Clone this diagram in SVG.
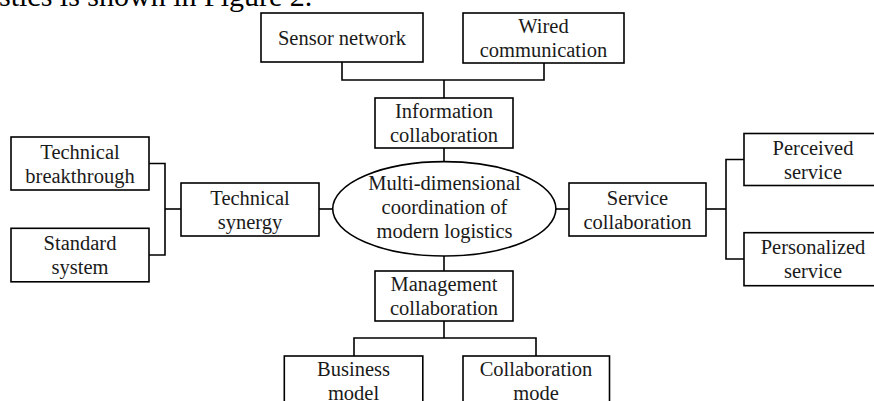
<svg xmlns="http://www.w3.org/2000/svg" width="874" height="401" viewBox="0 0 874 401">
<style>
.box{fill:#fff;stroke:#000;stroke-width:1.6}
.t{font-family:"Liberation Serif","Times New Roman",serif;font-size:20.5px;fill:#1a1a1a;text-anchor:middle}
.c{fill:none;stroke:#000;stroke-width:1.6}
</style>
<rect width="874" height="401" fill="#fff"/>
<text x="-1" y="5.5" style="font-family:'Liberation Serif','Times New Roman',serif;font-size:30px;fill:#000">stics is shown in Figure 2.</text>
<g id="connectors">
<path class="c" d="M342,62 V80 H544 V63"/>
<path class="c" d="M444,80 V98"/>
<path class="c" d="M444,148 V162"/>
<path class="c" d="M444,256 V271"/>
<path class="c" d="M444,321 V338"/>
<path class="c" d="M354,356 V338 H536 V356"/>
<path class="c" d="M149,163.5 H165 V255 H149"/>
<path class="c" d="M165,209 H181"/>
<path class="c" d="M319,209 H333"/>
<path class="c" d="M556,209 H569"/>
<path class="c" d="M706,209 H726"/>
<path class="c" d="M744,159.5 H726 V259 H744"/>
</g>
<g id="sensor-network">
<rect class="box" x="261" y="13" width="162" height="49"/>
<text class="t" x="342" y="45">Sensor network</text>
</g>
<g id="wired-communication">
<rect class="box" x="463" y="13" width="161" height="50"/>
<text class="t" x="543.5" y="33">Wired</text>
<text class="t" x="543.5" y="57">communication</text>
</g>
<g id="information-collaboration">
<rect class="box" x="375" y="98" width="138" height="50"/>
<text class="t" x="444" y="118">Information</text>
<text class="t" x="444" y="142">collaboration</text>
</g>
<g id="center">
<ellipse class="box" cx="444.3" cy="208.8" rx="111.6" ry="47.2"/>
<text class="t" x="444.5" y="190">Multi-dimensional</text>
<text class="t" x="444.5" y="214">coordination of</text>
<text class="t" x="444.5" y="238">modern logistics</text>
</g>
<g id="technical-breakthrough">
<rect class="box" x="11" y="137" width="138" height="53"/>
<text class="t" x="80" y="158.5">Technical</text>
<text class="t" x="80" y="182.5">breakthrough</text>
</g>
<g id="standard-system">
<rect class="box" x="11" y="228.3" width="138" height="53.5"/>
<text class="t" x="80" y="250">Standard</text>
<text class="t" x="80" y="274">system</text>
</g>
<g id="technical-synergy">
<rect class="box" x="181" y="183" width="138" height="53"/>
<text class="t" x="250" y="204.5">Technical</text>
<text class="t" x="250" y="228.5">synergy</text>
</g>
<g id="service-collaboration">
<rect class="box" x="569" y="183" width="137" height="53"/>
<text class="t" x="637.5" y="204.5">Service</text>
<text class="t" x="637.5" y="228.5">collaboration</text>
</g>
<g id="perceived-service">
<rect class="box" x="744" y="133.5" width="138" height="52"/>
<text class="t" x="813" y="154.5">Perceived</text>
<text class="t" x="813" y="178.5">service</text>
</g>
<g id="personalized-service">
<rect class="box" x="744" y="232.7" width="138" height="53"/>
<text class="t" x="813" y="254.2">Personalized</text>
<text class="t" x="813" y="278.2">service</text>
</g>
<g id="management-collaboration">
<rect class="box" x="375" y="271" width="138" height="50"/>
<text class="t" x="444" y="291">Management</text>
<text class="t" x="444" y="315">collaboration</text>
</g>
<g id="business-model">
<rect class="box" x="284.3" y="356" width="138.5" height="60"/>
<text class="t" x="353.5" y="376">Business</text>
<text class="t" x="353.5" y="400">model</text>
</g>
<g id="collaboration-mode">
<rect class="box" x="463" y="356" width="146.5" height="60"/>
<text class="t" x="536" y="376">Collaboration</text>
<text class="t" x="536" y="400">mode</text>
</g>
</svg>
